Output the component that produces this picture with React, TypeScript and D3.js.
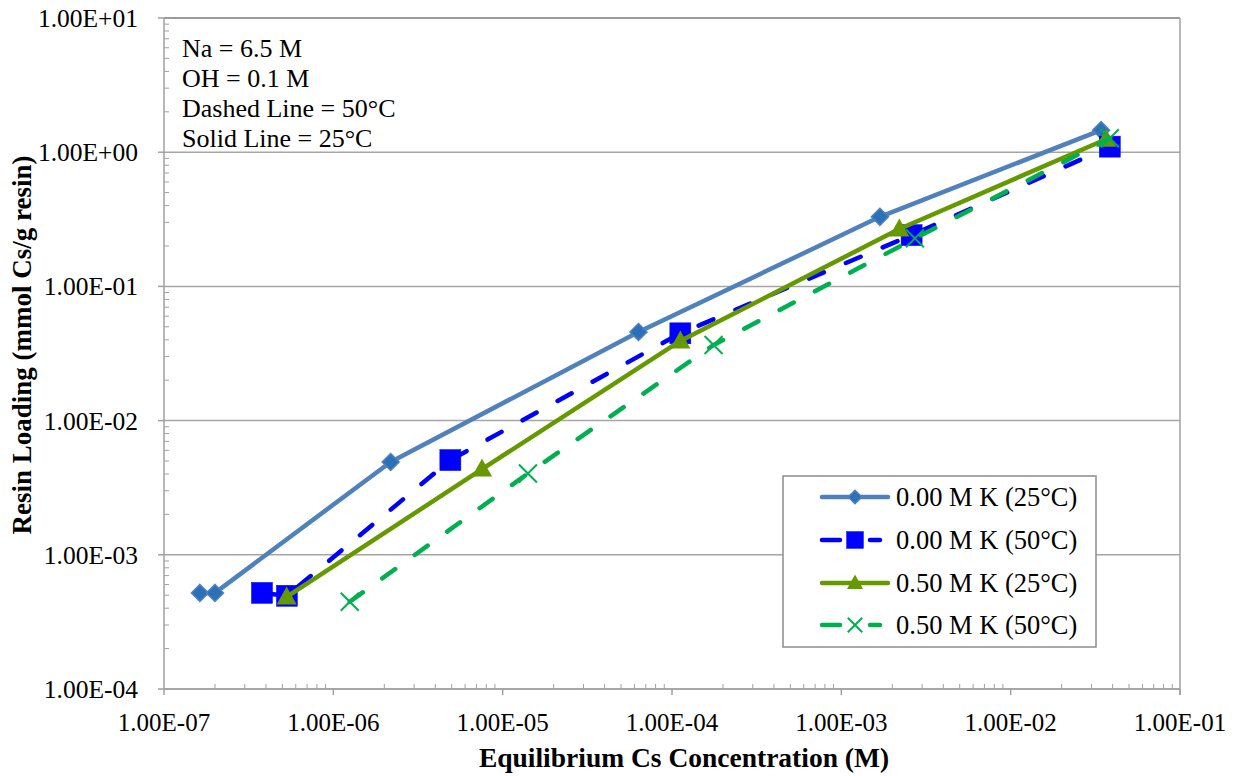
import React from "react";
import * as d3 from "d3";

const xTickValues = [1e-7, 1e-6, 1e-5, 1e-4, 1e-3, 1e-2, 1e-1];
const xTickLabels = ["1.00E-07", "1.00E-06", "1.00E-05", "1.00E-04", "1.00E-03", "1.00E-02", "1.00E-01"];
const yTickValues = [1e-4, 1e-3, 1e-2, 1e-1, 1e0, 1e1];
const yTickLabels = ["1.00E-04", "1.00E-03", "1.00E-02", "1.00E-01", "1.00E+00", "1.00E+01"];

const s1x = [1.63e-7, 2.0e-7, 2.18e-6, 6.34e-5, 1.69e-3, 0.0342];
const s1y = [5.2e-4, 5.2e-4, 4.92e-3, 0.0457, 0.33, 1.46];
const s2x = [3.79e-7, 5.32e-7, 4.91e-6, 1.12e-4, 2.6e-3, 0.0385];
const s2y = [5.2e-4, 4.95e-4, 5.08e-3, 0.0447, 0.241, 1.1];
const s3x = [5.3e-7, 7.55e-6, 1.12e-4, 2.2e-3, 0.0366];
const s3y = [4.85e-4, 4.35e-3, 0.0392, 0.268, 1.25];
const s4x = [1.25e-6, 1.41e-5, 1.76e-4, 2.72e-3, 0.0385];
const s4y = [4.47e-4, 4.04e-3, 0.0366, 0.228, 1.27];

const seriesNames = ["0.00 M K (25°C)", "0.00 M K (50°C)", "0.50 M K (25°C)", "0.50 M K (50°C)"];
const notes = ["Na = 6.5 M", "OH = 0.1 M", "Dashed Line = 50°C", "Solid Line = 25°C"];

type Series = { name: string; xs: number[]; ys: number[]; color: string; dashed: boolean; marker: string; mfill: string };

const series: Series[] = [
  { name: seriesNames[0], xs: s1x, ys: s1y, color: "#4F81BD", dashed: false, marker: "diamond", mfill: "#2C70B8" },
  { name: seriesNames[1], xs: s2x, ys: s2y, color: "#0000FF", dashed: true, marker: "square", mfill: "#0000FF" },
  { name: seriesNames[2], xs: s3x, ys: s3y, color: "#669900", dashed: false, marker: "triangle", mfill: "#669900" },
  { name: seriesNames[3], xs: s4x, ys: s4y, color: "#00B050", dashed: true, marker: "x", mfill: "#00B050" },
];

const FONT = "'Liberation Serif', 'Times New Roman', serif";

function Marker({ type, x, y, color, fill, k = 1 }: { type: string; x: number; y: number; color: string; fill: string; k?: number }) {
  if (type === "diamond") {
    const r = 8.5 * k;
    return <path d={`M${x},${y - r}L${x + r},${y}L${x},${y + r}L${x - r},${y}Z`} fill={fill} stroke={color} strokeWidth={1.5} />;
  }
  if (type === "square") {
    const r = 10.5 * k;
    return <rect x={x - r} y={y - r} width={2 * r} height={2 * r} fill={fill} stroke={color} strokeWidth={0.5} />;
  }
  if (type === "triangle") {
    const r = 10 * k;
    return <path d={`M${x},${y - r * 1.05}L${x + r},${y + r * 0.75}L${x - r},${y + r * 0.75}Z`} fill={fill} />;
  }
  const r = 9 * k;
  return (
    <path d={`M${x - r},${y - r}L${x + r},${y + r}M${x - r},${y + r}L${x + r},${y - r}`} stroke={color} strokeWidth={2} fill="none" />
  );
}

export default function App() {
  const W = 1238, H = 776;
  const left = 164, right = 1180, top = 18, bottom = 689;
  const x = d3.scaleLog().domain([1e-7, 1e-1]).range([left, right]);
  const y = d3.scaleLog().domain([1e-4, 1e1]).range([bottom, top]);
  const line = d3.line<[number, number]>().x((d) => x(d[0])).y((d) => y(d[1]));

  const xMinor: number[] = [];
  for (let e = -7; e < -1; e++) for (let m = 2; m <= 9; m++) xMinor.push(m * Math.pow(10, e));
  const yMinor: number[] = [];
  for (let e = -4; e < 1; e++) for (let m = 2; m <= 9; m++) yMinor.push(m * Math.pow(10, e));

  const legX = 783, legY = 476, legW = 313, legH = 171;
  const legRows = [497, 540, 583, 625];

  return (
    <svg width={W} height={H} style={{ position: "absolute", left: 0, top: 0, background: "#fff" }} fontFamily={FONT}>
      {/* gridlines */}
      {yTickValues.map((v, i) => (
        <line key={"g" + i} x1={left} x2={right} y1={y(v)} y2={y(v)} stroke={i === yTickValues.length - 1 ? "#7a7a7a" : "#A6A6A6"} strokeWidth={1.5} />
      ))}
      {/* right border */}
      <line x1={right} x2={right} y1={top} y2={bottom + 6} stroke="#A0A0A0" strokeWidth={1.5} />
      {/* axes */}
      <line x1={left} x2={left} y1={top} y2={bottom} stroke="#A0A0A0" strokeWidth={1.5} />
      <line x1={left} x2={right} y1={bottom} y2={bottom} stroke="#A0A0A0" strokeWidth={1.5} />
      {xTickValues.map((v, i) => (
        <line key={"xt" + i} x1={x(v)} x2={x(v)} y1={bottom} y2={bottom + 6} stroke="#A0A0A0" strokeWidth={1.5} />
      ))}
      {xMinor.map((v, i) => (
        <line key={"xm" + i} x1={x(v)} x2={x(v)} y1={bottom} y2={bottom - 5} stroke="#A0A0A0" strokeWidth={1} />
      ))}
      {yTickValues.map((v, i) => (
        <line key={"yt" + i} x1={left - 6} x2={left} y1={y(v)} y2={y(v)} stroke="#A0A0A0" strokeWidth={1.5} />
      ))}
      {yMinor.map((v, i) => (
        <line key={"ym" + i} x1={left} x2={left + 5} y1={y(v)} y2={y(v)} stroke="#A0A0A0" strokeWidth={1} />
      ))}
      {/* tick labels */}
      {xTickValues.map((v, i) => (
        <text key={"xl" + i} x={x(v)} y={731} textAnchor="middle" fontSize={25} fill="#000">{xTickLabels[i]}</text>
      ))}
      {yTickValues.map((v, i) => (
        <text key={"yl" + i} x={138} y={y(v) + 9} textAnchor="end" fontSize={25.5} fill="#000">{yTickLabels[i]}</text>
      ))}
      {/* axis titles */}
      <text x={684} y={767} textAnchor="middle" fontSize={27.5} fontWeight="bold">Equilibrium Cs Concentration (M)</text>
      <text transform={`translate(31,345) rotate(-90)`} textAnchor="middle" fontSize={27} fontWeight="bold">Resin Loading (mmol Cs/g resin)</text>
      {/* notes */}
      {notes.map((t, i) => (
        <text key={"n" + i} x={182} y={57 + i * 30} fontSize={26}>{t}</text>
      ))}
      {/* series: line then markers, in order */}
      {series.map((s, si) => {
        const pts: [number, number][] = s.xs.map((v, i) => [v, s.ys[i]]);
        return (
          <g key={"s" + si}>
            <path d={line(pts) || ""} fill="none" stroke={s.color} strokeWidth={4.5} strokeLinecap="round" strokeLinejoin="round" strokeDasharray={s.dashed ? "16,24" : undefined} />
            {s.xs.map((v, i) => (
              <Marker key={i} type={s.marker} x={x(v)} y={y(s.ys[i])} color={s.color} fill={s.mfill} />
            ))}
          </g>
        );
      })}
      {/* legend */}
      <rect x={legX} y={legY} width={legW} height={legH} fill="#fff" stroke="#8c8c8c" strokeWidth={1.5} />
      {series.map((s, i) => (
        <g key={"l" + i}>
          {s.dashed ? (
            <>
              <line x1={822} x2={840} y1={legRows[i]} y2={legRows[i]} stroke={s.color} strokeWidth={4.5} strokeLinecap="round" />
              <line x1={870} x2={880} y1={legRows[i]} y2={legRows[i]} stroke={s.color} strokeWidth={4.5} strokeLinecap="round" />
            </>
          ) : (
            <line x1={822} x2={888} y1={legRows[i]} y2={legRows[i]} stroke={s.color} strokeWidth={4.5} strokeLinecap="round" />
          )}
          <Marker type={s.marker} x={855} y={legRows[i]} color={s.color} fill={s.mfill} k={0.8} />
          <text x={896} y={legRows[i] + 9} fontSize={26.5}>{s.name}</text>
        </g>
      ))}
    </svg>
  );
}
